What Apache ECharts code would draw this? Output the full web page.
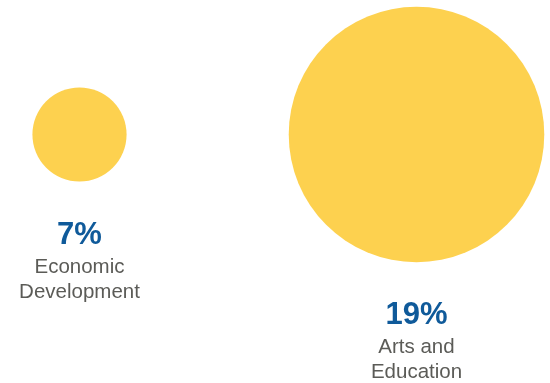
<!DOCTYPE html>
<html>
<head>
<meta charset="utf-8">
<script src="https://cdn.jsdelivr.net/npm/echarts@6/dist/echarts.min.js"></script>
<style>html,body{margin:0;padding:0;background:#fff}#c{width:550px;height:383px}</style>
</head>
<body>
<div id="c"></div>
<script>
var categories = ['Economic Development', 'Arts and Education'];
var values = [7, 19];
var nameLines = [['Economic', 'Development'], ['Arts and', 'Education']];

var PX_PER_PCT = 13.45; // circle diameter per percentage point

var chart = echarts.init(document.getElementById('c'), null, {renderer: 'canvas'});
chart.setOption({
  animation: false,
  backgroundColor: '#ffffff',
  grid: {left: 79.5, width: 337, top: 0, height: 269, containLabel: false},
  xAxis: {type: 'category', data: categories, boundaryGap: false, show: false},
  yAxis: {type: 'value', min: -1, max: 1, show: false},
  series: [{
    type: 'scatter',
    data: categories.map(function (c, i) { return [c, 0, values[i]]; }),
    symbol: 'circle',
    symbolSize: function (d) { return d[2] * PX_PER_PCT; },
    itemStyle: {color: '#FDD14F', opacity: 1},
    label: {
      show: true,
      position: 'bottom',
      distance: 34,
      align: 'center',
      formatter: function (p) {
        var i = p.dataIndex;
        return '{v|' + values[i] + '%}\n{n|' + nameLines[i][0] + '}\n{n|' + nameLines[i][1] + '}';
      },
      rich: {
        v: {fontFamily: 'Liberation Sans', fontSize: 31, fontWeight: 'bold', color: '#0F5A9A', lineHeight: 39, align: 'center'},
        n: {fontFamily: 'Liberation Sans', fontSize: 20.5, color: '#5B5B57', lineHeight: 25, align: 'center'}
      }
    },
    emphasis: {disabled: true}
  }]
});
</script>
</body>
</html>
